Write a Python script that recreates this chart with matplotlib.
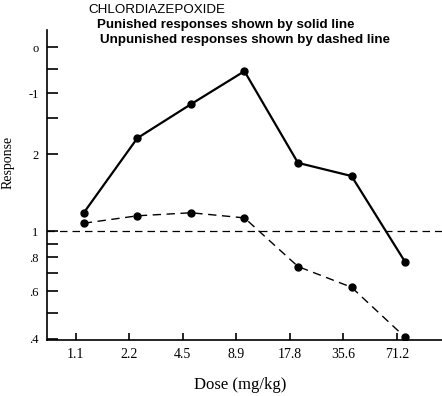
import numpy as np
import matplotlib
matplotlib.use("Agg")
import matplotlib.pyplot as plt

# doses on the x axis (equally spaced categories)
doses = ["1.1", "2.2", "4.5", "8.9", "17.8", "35.6", "71.2"]
# response
punished = [1.17, 2.21, 2.95, 3.91, 1.79, 1.60, 0.77]
unpunished = [1.07, 1.14, 1.17, 1.12, 0.74, 0.62, 0.405]

# y ticks as printed on the (scanned) axis
ytick_vals = [4.8, 3.24, 1.93, 1.0, 0.8, 0.6, 0.4]
ytick_labels = ["o", "-1", "2", "1", ".8", ".6", ".4"]
yminor_vals = [3.98, 2.62, 0.9, 0.7, 0.5]

serif = "Liberation Serif"
sans = "Liberation Sans"

fig = plt.figure(figsize=(4.42, 3.96), dpi=100)
ax = fig.add_axes([0.106, 0.141, 0.894, 0.783])

x = np.arange(len(doses))
ax.plot(x, punished, color="black", lw=1.6, marker="o", ms=5)
ax.plot(x, unpunished, color="black", lw=1.0, marker="o", ms=5,
        dashes=(6, 4))
ax.axhline(1.0, color="black", lw=0.9, dashes=(6, 4))

ax.set_yscale("log")
ax.set_ylim(0.395, 5.55)
ax.set_xlim(-0.69, 6.69)

ax.set_yticks(ytick_vals)
ax.set_yticklabels(ytick_labels, fontfamily=serif, fontsize=9)
ax.set_yticks(yminor_vals, minor=True)
ax.yaxis.set_minor_formatter(matplotlib.ticker.NullFormatter())
ax.tick_params(axis="y", which="both", direction="in", length=8,
               width=1.2, pad=6)

ax.set_xticks(x - 0.15)
ax.set_xticklabels(doses, fontfamily=serif, fontsize=10)
ax.tick_params(axis="x", direction="in", length=5, width=1.2, pad=6)

for s in ["top", "right"]:
    ax.spines[s].set_visible(False)
ax.spines["left"].set_linewidth(1.2)
ax.spines["bottom"].set_linewidth(1.2)

# axis titles placed where they sit in the scan
fig.text(0.543, 0.028, "Dose (mg/kg)", fontfamily=serif, fontsize=12,
         ha="center", va="center")
fig.text(0.019, 0.59, "Response", fontfamily=serif, fontsize=10,
         rotation=90, ha="center", va="center")

fig.text(0.199, 0.99, "CHLORDIAZEPOXIDE", fontfamily=sans, fontsize=9.6,
         va="top")
fig.text(0.219, 0.952, "Punished responses shown by solid line",
         fontfamily=sans, fontsize=9.6, fontweight="bold", va="top")
fig.text(0.226, 0.915, "Unpunished responses shown by dashed line",
         fontfamily=sans, fontsize=9.6, fontweight="bold", va="top")

fig.savefig("out.png", dpi=100)
